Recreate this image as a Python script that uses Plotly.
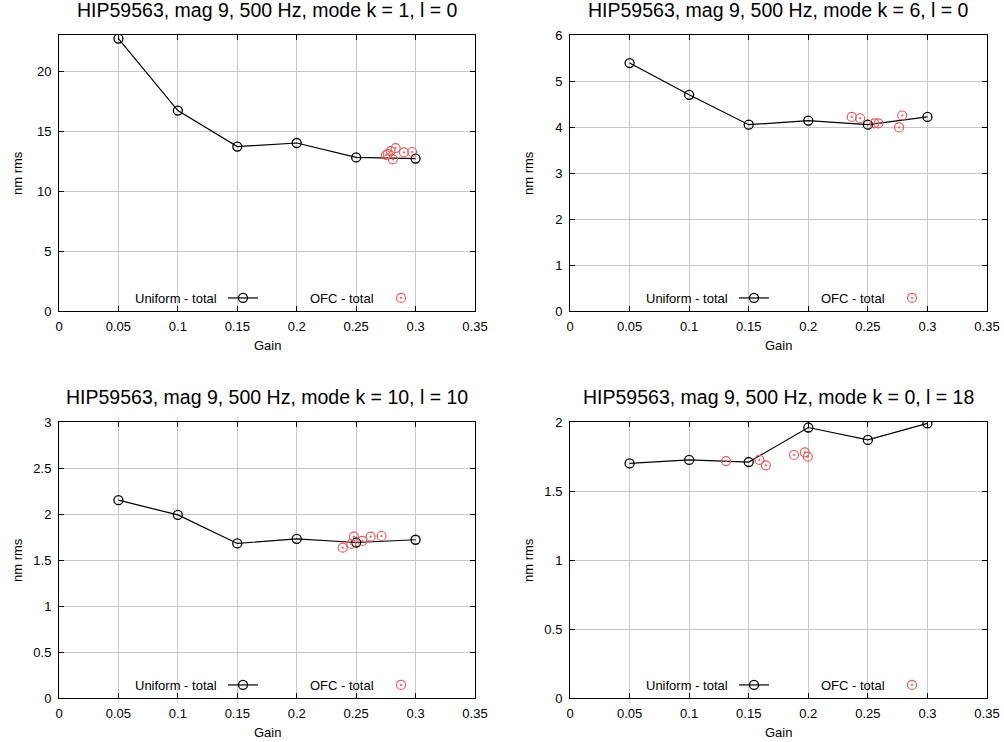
import plotly.graph_objects as go

FONT = "Liberation Sans, Arial, sans-serif"

titles = [
    "HIP59563, mag 9, 500 Hz, mode k = 1, l = 0",
    "HIP59563, mag 9, 500 Hz, mode k = 6, l = 0",
    "HIP59563, mag 9, 500 Hz, mode k = 10, l = 10",
    "HIP59563, mag 9, 500 Hz, mode k = 0, l = 18",
]

uniform_gain = [0.05, 0.10, 0.15, 0.20, 0.25, 0.30]
uniform_k1_l0 = [22.7, 16.7, 13.7, 14.0, 12.8, 12.7]
uniform_k6_l0 = [5.39, 4.70, 4.05, 4.14, 4.05, 4.22]
uniform_k10_l10 = [2.15, 1.99, 1.68, 1.73, 1.69, 1.72]
uniform_k0_l18 = [1.70, 1.725, 1.71, 1.96, 1.87, 1.99]

ofc_gain_k1_l0 = [0.275, 0.2767, 0.279, 0.2832, 0.2809, 0.2902, 0.2972]
ofc_k1_l0 = [13.0, 13.08, 13.33, 13.58, 12.64, 13.22, 13.25]
ofc_gain_k6_l0 = [0.2365, 0.2435, 0.2555, 0.2589, 0.2788, 0.2762]
ofc_k6_l0 = [4.22, 4.19, 4.08, 4.08, 4.25, 3.99]
ofc_gain_k10_l10 = [0.2387, 0.2459, 0.2481, 0.2552, 0.2622, 0.2714]
ofc_k10_l10 = [1.634, 1.674, 1.753, 1.707, 1.753, 1.761]
ofc_gain_k0_l18 = [0.131, 0.159, 0.1644, 0.188, 0.1971, 0.1996]
ofc_k0_l18 = [1.717, 1.725, 1.686, 1.761, 1.780, 1.749]

y_ranges = [[0, 23], [0, 6], [0, 3], [0, 2]]
y_dticks = [5, 1, 0.5, 0.5]
x_ticks = [0, 0.05, 0.1, 0.15, 0.2, 0.25, 0.3, 0.35]

uniform_series = [uniform_k1_l0, uniform_k6_l0, uniform_k10_l10, uniform_k0_l18]
ofc_x = [ofc_gain_k1_l0, ofc_gain_k6_l0, ofc_gain_k10_l10, ofc_gain_k0_l18]
ofc_y = [ofc_k1_l0, ofc_k6_l0, ofc_k10_l10, ofc_k0_l18]

RED = "#ee5b5b"

# pixel geometry helpers
W, H = 1004, 742
ML, MR, MT, MB = 59, 17, 35, 44
PW = W - ML - MR
PH = H - MT - MB
def px(p):
    return (p - ML) / PW
def py(p):
    return (H - MB - p) / PH

panel_left = [59, 570, 59, 570]
panel_right = [475, 987, 475, 987]
panel_top = [35, 35, 422, 422]
panel_bottom = [311, 311, 698, 698]

fig = go.Figure()

for i in range(4):
    ax = "" if i == 0 else str(i + 1)
    leg = "legend" if i == 0 else "legend" + str(i + 1)
    fig.add_trace(go.Scatter(
        x=uniform_gain, y=uniform_series[i], mode="lines+markers",
        name="", legend=leg, xaxis="x" + ax, yaxis="y" + ax,
        line=dict(color="black", width=1.2),
        marker=dict(symbol="circle-open", size=9, color="black", line=dict(width=1.3)),
    ))
    fig.add_trace(go.Scatter(
        x=ofc_x[i], y=ofc_y[i], mode="markers",
        name="", legend=leg, xaxis="x" + ax, yaxis="y" + ax,
        marker=dict(symbol="circle-open-dot", size=9, color=RED, line=dict(width=1.2)),
    ))

axis_common = dict(
    showline=True, linecolor="black", linewidth=1, mirror="allticks",
    ticks="inside", ticklen=5, tickcolor="black", tickwidth=1,
    showgrid=True, gridcolor="#c8c8c8", gridwidth=1,
    zeroline=False, tickfont=dict(family=FONT, size=13, color="black"),
)

layout = dict(
    width=W, height=H,
    margin=dict(l=ML, r=MR, t=MT, b=MB, autoexpand=False),
    paper_bgcolor="white", plot_bgcolor="white",
    font=dict(family=FONT, size=13, color="black"),
    showlegend=True,
)

annotations = []
for i in range(4):
    ax = "" if i == 0 else str(i + 1)
    xd = [px(panel_left[i]), px(panel_right[i])]
    yd = [py(panel_bottom[i]), py(panel_top[i])]
    layout["xaxis" + ax] = dict(
        axis_common, domain=xd, range=[0, 0.35], tickvals=x_ticks,
        ticktext=["0", "0.05", "0.1", "0.15", "0.2", "0.25", "0.3", "0.35"],
        anchor="y" + ax, ticklabelstandoff=3,
    )
    layout["yaxis" + ax] = dict(
        axis_common, domain=yd, range=y_ranges[i], dtick=y_dticks[i], tick0=0,
        anchor="x" + ax, ticklabelstandoff=4,
    )
    cx = (panel_left[i] + panel_right[i]) / 2
    annotations.append(dict(
        text=titles[i], x=px(cx), y=py(panel_top[i] - 25), xref="paper", yref="paper",
        showarrow=False, xanchor="center", yanchor="middle",
        font=dict(family=FONT, size=19.5, color="black"),
    ))
    annotations.append(dict(
        text="Gain", x=px(cx), y=py(panel_bottom[i] + 34), xref="paper", yref="paper",
        showarrow=False, xanchor="center", yanchor="middle",
        font=dict(family=FONT, size=13, color="black"),
    ))
    annotations.append(dict(
        text="nm rms", x=px(panel_left[i] - 42), y=py((panel_top[i] + panel_bottom[i]) / 2),
        xref="paper", yref="paper", textangle=-90,
        showarrow=False, xanchor="center", yanchor="middle",
        font=dict(family=FONT, size=13, color="black"),
    ))
    annotations.append(dict(
        text="Uniform - total", x=px(panel_left[i] + 160), y=py(panel_bottom[i] - 13),
        xref="paper", yref="paper", showarrow=False, xanchor="right", yanchor="middle",
        font=dict(family=FONT, size=13, color="black"),
    ))
    annotations.append(dict(
        text="OFC - total", x=px(panel_left[i] + 317), y=py(panel_bottom[i] - 13),
        xref="paper", yref="paper", showarrow=False, xanchor="right", yanchor="middle",
        font=dict(family=FONT, size=13, color="black"),
    ))
    leg = "legend" if i == 0 else "legend" + str(i + 1)
    layout[leg] = dict(
        orientation="h", x=px(panel_left[i] + 164), xanchor="left",
        y=py(panel_bottom[i] - 13), yanchor="middle",
        entrywidth=113, entrywidthmode="pixels",
        bgcolor="rgba(0,0,0,0)", borderwidth=0,
        font=dict(family=FONT, size=13, color="black"),
        itemwidth=30, tracegroupgap=0,
    )

layout["annotations"] = annotations
fig.update_layout(**layout)

fig.write_html("out.html", config={"displayModeBar": False},
               post_script="document.body.style.margin='0';")
